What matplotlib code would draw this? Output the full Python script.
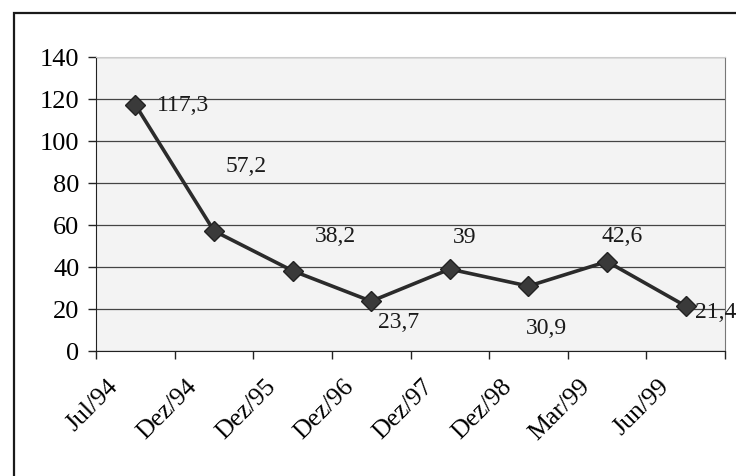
import matplotlib.pyplot as plt
import matplotlib.transforms as mtransforms
from matplotlib.patches import Rectangle

# data
categories = ['Jul/94', 'Dez/94', 'Dez/95', 'Dez/96', 'Dez/97', 'Dez/98', 'Mar/99', 'Jun/99']
values = [117.3, 57.2, 38.2, 23.7, 39.0, 30.9, 42.6, 21.4]
labels = ['117,3', '57,2', '38,2', '23,7', '39', '30,9', '42,6', '21,4']
# label offsets (pixels) from each point, and horizontal alignment
label_offsets = [(22, 0), (32, 65), (43, 35), (27, -20), (15, 33), (18, -41), (15, 26), (9, -5)]
label_ha = ['left', 'center', 'center', 'center', 'center', 'center', 'center', 'left']

plt.rcParams['font.family'] = ['Liberation Serif', 'DejaVu Serif']

fig = plt.figure(figsize=(7.36, 4.77), dpi=100)
fig.patch.set_facecolor('white')

# outer frame of the chart object
fig.add_artist(Rectangle((14 / 736, -0.05), 1.0, 1 - 14 / 477 + 0.05,
                         transform=fig.transFigure, fill=False,
                         edgecolor='#1a1a1a', linewidth=1.6))

ax = fig.add_axes([96 / 736, (477 - 352) / 477, (725 - 96) / 736, (352 - 58) / 477])
ax.set_facecolor('#f3f3f3')

x = list(range(len(categories)))
ax.plot(x, values, color='#2b2b2b', linewidth=2.6, marker='D', markersize=10,
        markerfacecolor='#3a3a3a', markeredgecolor='#222222', zorder=3)

for xi, v, lab, (dx, dy), ha in zip(x, values, labels, label_offsets, label_ha):
    ax.annotate(lab, (xi, v), xytext=(dx, dy), textcoords='offset pixels',
                ha=ha, va='center', fontsize=17, color='#1a1a1a')

ax.set_xlim(-0.5, len(categories) - 0.5)
ax.set_ylim(0, 140)
ax.set_yticks(range(0, 141, 20))
ax.yaxis.grid(True, color='#444444', linewidth=0.9)
ax.set_axisbelow(True)

# categories between tick marks, Excel style
ax.set_xticks(x)
ax.set_xticks([i - 0.5 for i in range(len(categories) + 1)], minor=True)
ax.tick_params(axis='x', which='major', length=0, pad=17)
ax.tick_params(axis='x', which='minor', length=6, width=1, color='#222222', direction='out')
ax.tick_params(axis='y', length=6, width=1, color='#222222', direction='out',
               labelsize=19, pad=6)
ax.set_xticklabels(categories, rotation=45, ha='right', rotation_mode='anchor', fontsize=18.5)
offset = mtransforms.ScaledTranslation(-28 / 100, 0, fig.dpi_scale_trans)
for t in ax.get_xticklabels():
    t.set_transform(t.get_transform() + offset)

ax.spines['left'].set_color('#222222')
ax.spines['bottom'].set_color('#222222')
ax.spines['right'].set_color('#777777')
ax.spines['right'].set_linewidth(0.8)
ax.spines['top'].set_color('#cccccc')
ax.spines['top'].set_linewidth(0.8)

fig.savefig('out.png', dpi=100)
